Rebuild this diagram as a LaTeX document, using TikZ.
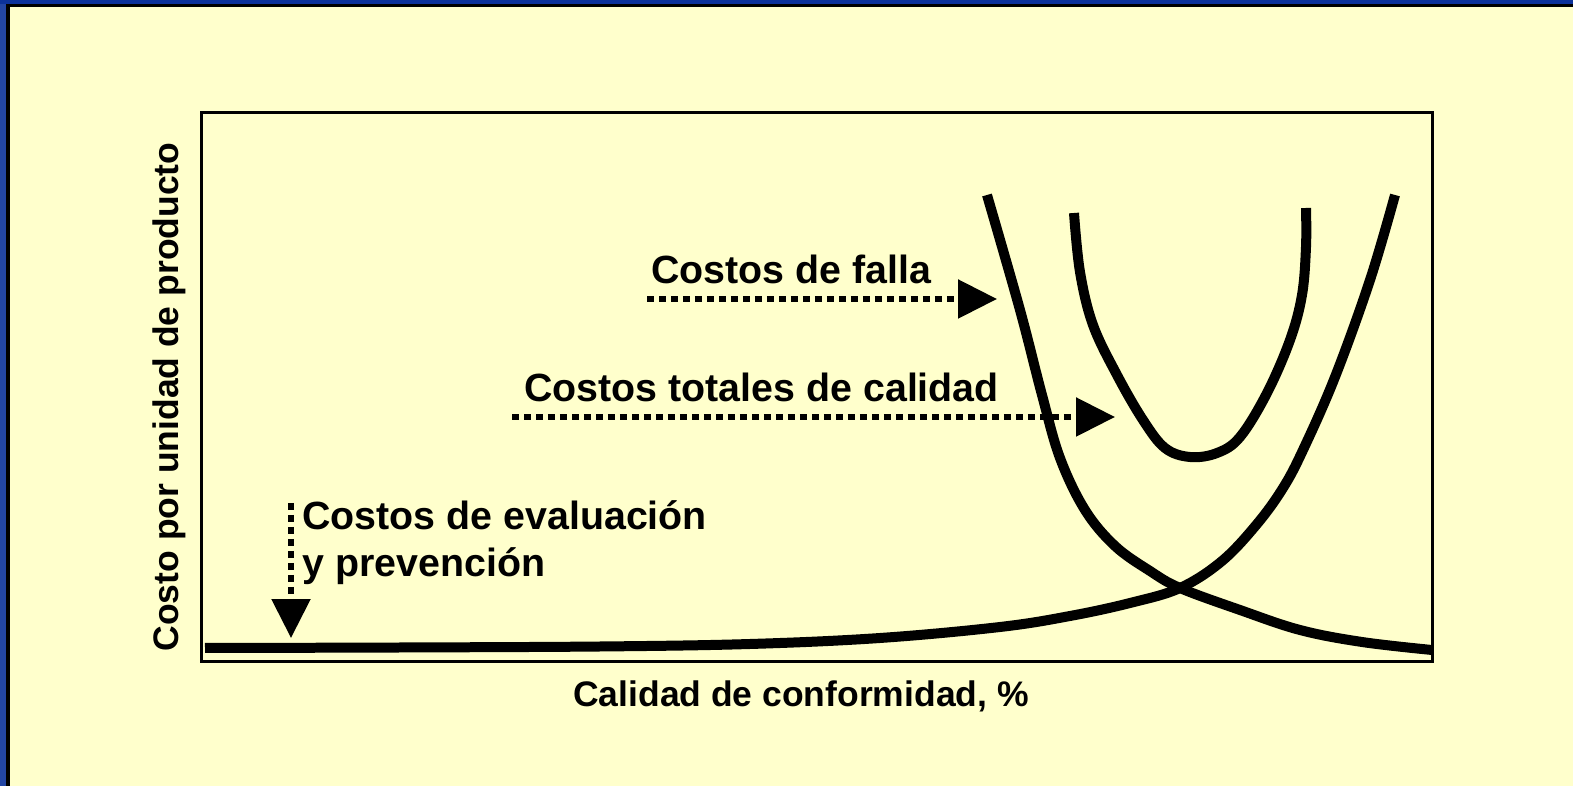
\documentclass[tikz,border=0pt]{standalone}
\usepackage{fontspec}
\setmainfont{Liberation Sans}
\usetikzlibrary{arrows.meta}
\definecolor{bgyellow}{RGB}{255,255,204}
\definecolor{blueleft}{RGB}{35,70,165}
\definecolor{bluetop}{RGB}{12,50,155}
\tikzset{
  curve/.style={line width=0.2cm, black},
  frame/.style={line width=0.06cm, black},
  dotarrow/.style={line width=0.11cm, dash pattern=on 0.14cm off 0.1cm, -{Triangle[length=0.78cm,width=0.76cm]}},
  lbl/.style={font=\fontsize{22.4}{26}\selectfont\bfseries, inner sep=0pt, anchor=base west},
  axlbl/.style={font=\fontsize{20.2}{24}\selectfont\bfseries, inner sep=0pt, anchor=base},
}
\begin{document}
\begin{tikzpicture}[x=0.02cm,y=-0.02cm]
\useasboundingbox (0,0) rectangle (1573,786);
% background and border
\fill[blueleft] (0,0) rectangle (1573,786);
\fill[bluetop] (0,0) rectangle (1573,4);
\fill[bgyellow] (6,4) rectangle (1573,786);
\fill[black] (6,4) rectangle (1573,7.5);
\fill[black] (6,4) rectangle (10,786);
% plot frame
\draw[frame] (201.5,113) rectangle (1432.5,662);
% curves
\draw[curve] plot[smooth, tension=0.6] coordinates {(205,648) (400,647.5) (600,646.5) (750,644) (880,638) (1000,627) (1070,616) (1130,603) (1180,588) (1222,561) (1257,524) (1283,488) (1303,450) (1335,377) (1370,280) (1395,195)};
\draw[curve] plot[smooth, tension=0.6] coordinates {(987,195) (1020,310) (1042,395) (1060,458) (1085,510) (1115,546) (1150,571) (1180,588) (1240,610) (1300,630) (1362,642) (1432,650)};
\draw[curve] plot[smooth, tension=0.6] coordinates {(1074,213) (1080,272) (1093,325) (1117,375) (1143,420) (1165,448) (1190,457) (1217,453) (1240,437) (1267,393) (1290,340) (1302,295) (1306,247) (1306,208)};
% labels
\node[lbl] (falla) at (651,284) {Costos de falla};
\node[lbl] (total) at (524,402) {Costos totales de calidad};
\node[lbl] (eval1) at (302,530) {Costos de evaluación};
\node[lbl] (eval2) at (302,577) {y prevención};
\node[axlbl] (xlab) at (801,707) {Calidad de conformidad, \%};
\node[axlbl, rotate=90] (ylab) at (178,397) {Costo por unidad de producto};
% arrows
\coordinate (fS) at (647,299);
\coordinate (fT) at (997,299);
\coordinate (tS) at (512,417);
\coordinate (tT) at (1115,417);
\coordinate (eS) at (291,503);
\coordinate (eT) at (291,638);
\draw[dotarrow] (fS) -- (fT);
\draw[dotarrow] (tS) -- (tT);
\draw[dotarrow] (eS) -- (eT);
\end{tikzpicture}
\end{document}
